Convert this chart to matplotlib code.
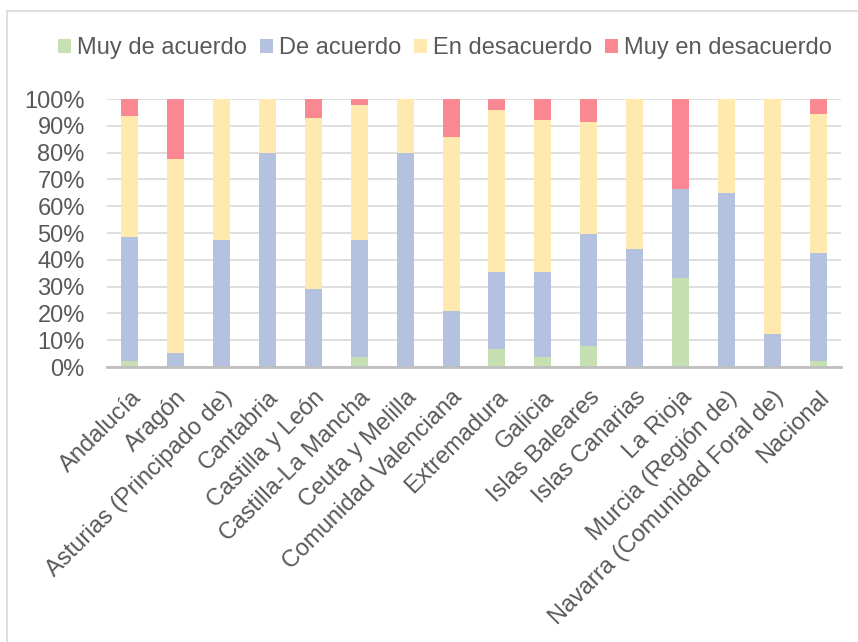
import numpy as np
import matplotlib
matplotlib.use("Agg")
import matplotlib.pyplot as plt
from matplotlib.lines import Line2D

# regions (x axis)
regiones = ["Andalucía", "Aragón", "Asturias (Principado de)", "Cantabria",
            "Castilla y León", "Castilla-La Mancha", "Ceuta y Melilla",
            "Comunidad Valenciana", "Extremadura", "Galicia", "Islas Baleares",
            "Islas Canarias", "La Rioja", "Murcia (Región de)",
            "Navarra (Comunidad Foral de)", "Nacional"]

# shares in %
muy_de_acuerdo = [2.2, 0, 0, 0, 0, 3.7, 0, 0, 6.8, 3.9, 7.7, 0, 33.3, 0, 0, 2.1]
de_acuerdo = [46.2, 5.2, 47.5, 80, 29.1, 43.8, 80, 21, 28.6, 31.5, 42, 44.2, 33.3, 64.9, 12.4, 40.6]
en_desacuerdo = [45.3, 72.5, 52.5, 20, 63.7, 50.1, 20, 64.7, 60.6, 56.6, 41.6, 55.8, 0, 35.1, 87.6, 51.8]
muy_en_desacuerdo = [6.3, 22.3, 0, 0, 7.2, 2.4, 0, 14.3, 4.0, 8.0, 8.7, 0, 33.4, 0, 0, 5.5]

series = ["Muy de acuerdo", "De acuerdo", "En desacuerdo", "Muy en desacuerdo"]
colores = ["#c6e0b4", "#b4c2e0", "#ffe9af", "#fa8893"]

plt.rcParams['font.family'] = ['Liberation Sans', 'DejaVu Sans']
txt = "#595959"
fs = 17

fig = plt.figure(figsize=(8.58, 6.42), dpi=100)
ax = fig.add_axes([107/858, 1 - 367/642, (841 - 107)/858, (367 - 99)/642])

x = np.arange(len(regiones))
datos = [muy_de_acuerdo, de_acuerdo, en_desacuerdo, muy_en_desacuerdo]
base = np.zeros(len(regiones))
for vals, c, nom in zip(datos, colores, series):
    v = np.array(vals) / 100.0
    ax.bar(x, v, 0.37, bottom=base, color=c, label=nom, linewidth=0, zorder=3)
    base = base + v

ax.set_xlim(-0.5, len(regiones) - 0.5)
ax.set_ylim(0, 1)
ax.set_yticks(np.arange(0, 1.01, 0.1))
ax.set_yticklabels(["%d%%" % (i * 10) for i in range(11)], fontsize=fs, color=txt)
ax.yaxis.grid(True, color="#d9d9d9", linewidth=1.2, zorder=0)
ax.tick_params(axis="y", length=0, pad=16)
ax.tick_params(axis="x", length=0, pad=14)
ax.set_xticks(x)
ax.set_xticklabels(regiones, rotation=45, ha="right", rotation_mode="anchor",
                   fontsize=fs, color=txt)
for s in ["top", "right", "left"]:
    ax.spines[s].set_visible(False)
ax.spines["bottom"].set_color("#bfbfbf")
ax.spines["bottom"].set_linewidth(2)
ax.spines["bottom"].set_zorder(4)

leg = fig.legend(loc="center", bbox_to_anchor=(445/858, 1 - 48/642), ncol=4, frameon=False,
                 fontsize=fs, handlelength=0.55, handleheight=0.55, handletextpad=0.25,
                 columnspacing=0.55, labelcolor=txt)

# chart border (left and top visible)
fig.add_artist(Line2D([7/858, 7/858], [0, 1 - 11/642], color="#d9d9d9", lw=1.2))
fig.add_artist(Line2D([7/858, 1], [1 - 11/642, 1 - 11/642], color="#d9d9d9", lw=1.2))

fig.savefig("out.png", dpi=100)
